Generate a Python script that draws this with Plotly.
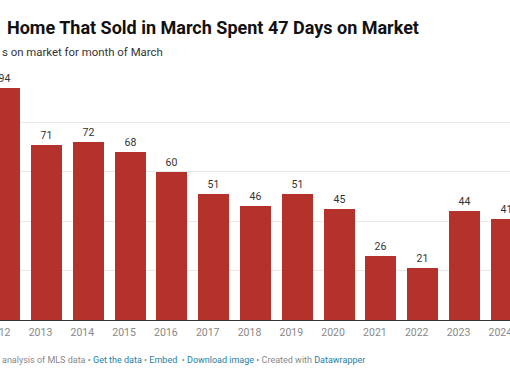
import plotly.graph_objects as go

years = [2012, 2013, 2014, 2015, 2016, 2017, 2018, 2019, 2020, 2021, 2022, 2023, 2024]
days = [94, 71, 72, 68, 60, 51, 46, 51, 45, 26, 21, 44, 41]
tick_labels = [str(y) for y in years]

title_text = "Home That Sold in March Spent 47 Days on Market"
subtitle_text = "s on market for month of March"
footer_text = ("analysis of MLS data \u2022 "
               "<span style='color:#1d81a2'>Get the data</span> \u2022 "
               "<span style='color:#1d81a2'>Embed</span>  \u2022 "
               "<span style='color:#1d81a2'>Download image</span> \u2022 Created with "
               "<span style='color:#1d81a2'>Datawrapper</span>")

W, H = 510, 382
T, B = 73, 320  # plot area top / bottom in pixels
PH = B - T


def py(p):
    return (B - p) / PH


fig = go.Figure()
fig.add_trace(go.Bar(
    x=years, y=days, width=0.74,
    marker=dict(color="#b5312b", line=dict(width=0)),
    text=[str(d) for d in days], textposition="outside",
    textfont=dict(family="Roboto", size=10.5, color="#333333"),
    cliponaxis=False,
))

fig.update_layout(
    width=W, height=H,
    margin=dict(l=0, r=0, t=T, b=H - B, autoexpand=False),
    paper_bgcolor="white", plot_bgcolor="white",
    showlegend=False,
    bargap=0,
    font=dict(family="Roboto"),
    xaxis=dict(
        range=[2011.8876, 2024.089], automargin=False,
        tickvals=years, ticktext=tick_labels,
        tickfont=dict(family="Roboto", size=10.5, color="#888888"),
        ticks="", showgrid=False, zeroline=False,
        showline=True, linecolor="#333333", linewidth=1,
        ticklabelshift=-6, ticklabelstandoff=2, ticklabeloverflow="allow",
    ),
    yaxis=dict(
        range=[0, 100], tickvals=[0, 20, 40, 60, 80, 100], automargin=False,
        showticklabels=False, showgrid=True, gridcolor="#e9e9e9", gridwidth=1,
        zeroline=False,
    ),
    annotations=[
        dict(text=title_text, xref="paper", yref="paper", x=5 / W, y=py(27),
             xanchor="left", yanchor="middle", showarrow=False,
             font=dict(family="Roboto", size=18, color="#111111", weight="bold")),
        dict(text=subtitle_text, xref="paper", yref="paper", x=0, y=py(52),
             xanchor="left", yanchor="middle", showarrow=False,
             font=dict(family="Roboto", size=11.4, color="#333333")),
        dict(text=footer_text, xref="paper", yref="paper", x=0, y=py(360),
             xanchor="left", yanchor="middle", showarrow=False,
             font=dict(family="Roboto", size=9, color="#888888")),
    ],
)

fig.write_html("out.html", config={"displayModeBar": False},
               post_script="document.body.style.margin='0px';document.body.style.overflow='hidden';")
